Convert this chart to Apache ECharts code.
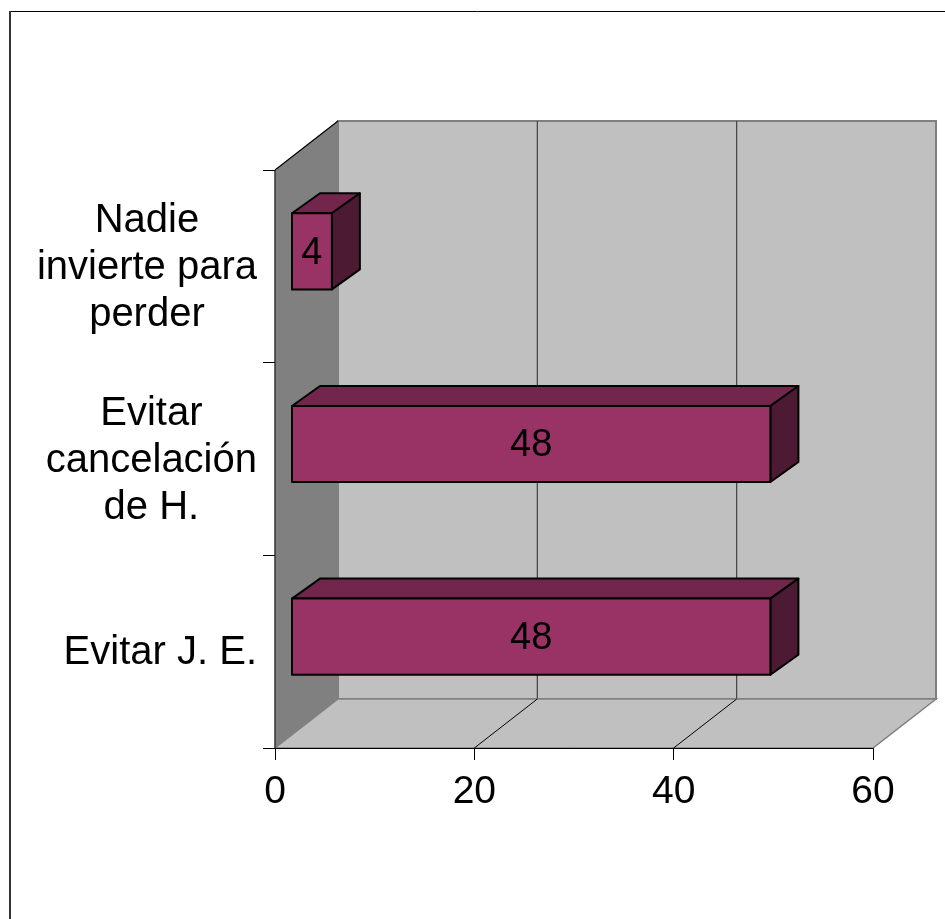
<!DOCTYPE html>
<html>
<head>
<meta charset="utf-8">
<title>Bar chart</title>
<script src="https://cdn.jsdelivr.net/npm/echarts@6/dist/echarts.min.js"></script>
<style>
  html, body { margin: 0; padding: 0; background: #fff; }
  #chart { width: 945px; height: 919px; }
</style>
</head>
<body>
<div id="chart"></div>
<script>
// Categories listed from top to bottom
const categories = ['Nadie\ninvierte para\nperder', 'Evitar\ncancelación\nde H.', 'Evitar J. E.'];
const values = [4, 48, 48];
const xTicks = [0, 20, 40, 60];

const FONT = '"Liberation Sans", Arial, sans-serif';
// Perspective offsets for the 3D look
const DEPTH = [63, -49];        // full depth of walls / floor
const BAR_FRONT = [17, -15];    // shift of the bar front face
const BAR_DEPTH = [28, -20];    // depth of each bar
const BAR_RATIO = 0.395;        // bar thickness relative to band

const chart = echarts.init(document.getElementById('chart'), null, { renderer: 'canvas' });

function wallsRenderItem(params, api) {
  const cs = params.coordSys;
  const x0 = cs.x, x1 = cs.x + cs.width, yT = cs.y, yB = cs.y + cs.height;
  const dx = DEPTH[0], dy = DEPTH[1];
  const children = [];
  // back wall
  children.push({
    type: 'polygon',
    shape: { points: [[x0 + dx, yT + dy], [x1 + dx, yT + dy], [x1 + dx, yB + dy], [x0 + dx, yB + dy]] },
    style: { fill: '#c0c0c0', stroke: '#808080', lineWidth: 2 }
  });
  // gridlines on the back wall and the floor
  xTicks.forEach(function (t) {
    if (t === xTicks[0] || t === xTicks[xTicks.length - 1]) return;
    const p = api.coord([t, 0]);
    children.push({
      type: 'line',
      shape: { x1: p[0] + dx, y1: yT + dy, x2: p[0] + dx, y2: yB + dy },
      style: { stroke: '#404040', lineWidth: 1.2 }
    });
  });
  // floor
  children.push({
    type: 'polygon',
    shape: { points: [[x0, yB], [x0 + dx, yB + dy], [x1 + dx, yB + dy], [x1, yB]] },
    style: { fill: '#c0c0c0', stroke: '#808080', lineWidth: 1.5 }
  });
  xTicks.forEach(function (t) {
    if (t === xTicks[0] || t === xTicks[xTicks.length - 1]) return;
    const p = api.coord([t, 0]);
    children.push({
      type: 'line',
      shape: { x1: p[0], y1: yB, x2: p[0] + dx, y2: yB + dy },
      style: { stroke: '#000', lineWidth: 1 }
    });
  });
  // left wall
  children.push({
    type: 'polygon',
    shape: { points: [[x0, yT], [x0 + dx, yT + dy], [x0 + dx, yB + dy], [x0, yB]] },
    style: { fill: '#808080' }
  });
  children.push({
    type: 'line',
    shape: { x1: x0, y1: yT, x2: x0 + dx, y2: yT + dy },
    style: { stroke: '#000', lineWidth: 1.2 }
  });
  children.push({
    type: 'line',
    shape: { x1: x0, y1: yT, x2: x0, y2: yB },
    style: { stroke: '#333', lineWidth: 1.5 }
  });
  return { type: 'group', children: children };
}

function barRenderItem(params, api) {
  const v = api.value(0);
  const idx = api.value(1);
  const start = api.coord([0, idx]);
  const end = api.coord([v, idx]);
  const band = api.size([0, 1])[1];
  const h = band * BAR_RATIO / 2;
  const fx0 = start[0] + BAR_FRONT[0];
  const fx1 = end[0] + BAR_FRONT[0];
  const fy0 = start[1] + BAR_FRONT[1] - h;
  const fy1 = start[1] + BAR_FRONT[1] + h;
  const bx = BAR_DEPTH[0], by = BAR_DEPTH[1];
  const edge = { stroke: '#000', lineWidth: 2, lineJoin: 'round' };
  return {
    type: 'group',
    children: [
      {
        type: 'polygon',
        shape: { points: [[fx0, fy0], [fx1, fy0], [fx1 + bx, fy0 + by], [fx0 + bx, fy0 + by]] },
        style: Object.assign({ fill: '#73264c' }, edge)
      },
      {
        type: 'polygon',
        shape: { points: [[fx1, fy0], [fx1 + bx, fy0 + by], [fx1 + bx, fy1 + by], [fx1, fy1]] },
        style: Object.assign({ fill: '#4d1a33' }, edge)
      },
      {
        type: 'rect',
        shape: { x: fx0, y: fy0, width: fx1 - fx0, height: fy1 - fy0 },
        style: Object.assign({ fill: '#993366' }, edge)
      },
      {
        type: 'text',
        x: (fx0 + fx1) / 2,
        y: (fy0 + fy1) / 2 + 2,
        style: {
          text: String(v),
          fill: '#000',
          font: '38px ' + FONT,
          align: 'center',
          verticalAlign: 'middle'
        }
      }
    ]
  };
}

const option = {
  animation: false,
  backgroundColor: '#fff',
  graphic: [
    { type: 'line', shape: { x1: 10, y1: 11.5, x2: 945, y2: 11.5 }, style: { stroke: '#000', lineWidth: 1 } },
    { type: 'line', shape: { x1: 10, y1: 11, x2: 10, y2: 919 }, style: { stroke: '#333', lineWidth: 2 } }
  ],
  grid: { left: 275, top: 170, width: 598, height: 578, containLabel: false },
  xAxis: {
    type: 'value',
    min: 0,
    max: 60,
    interval: 20,
    z: 5,
    axisLine: { show: true, lineStyle: { color: '#000', width: 1 } },
    axisTick: { show: true, length: 12, lineStyle: { color: '#000', width: 1 } },
    splitLine: { show: false },
    axisLabel: { color: '#000', fontSize: 39, fontFamily: FONT, margin: 25 }
  },
  yAxis: {
    type: 'category',
    data: categories,
    inverse: true,
    z: 5,
    axisLine: { show: false },
    axisTick: { show: true, length: 12, lineStyle: { color: '#000', width: 1 } },
    splitLine: { show: false },
    axisLabel: {
      color: '#000',
      margin: 18,
      align: 'right',
      formatter: function (val) {
        return val.split('\n').map(function (s) { return '{c|' + s + '}'; }).join('\n');
      },
      rich: {
        c: { align: 'center', fontSize: 40, lineHeight: 47, fontFamily: FONT, color: '#000', padding: [3, 0, 0, 0] }
      }
    }
  },
  series: [
    {
      type: 'custom',
      z: 1,
      clip: false,
      silent: true,
      renderItem: wallsRenderItem,
      data: [[0, 0]]
    },
    {
      type: 'custom',
      z: 2,
      clip: false,
      renderItem: barRenderItem,
      encode: { x: 0, y: 1 },
      data: values.map(function (v, i) { return [v, i]; })
    }
  ]
};

chart.setOption(option);
</script>
</body>
</html>
